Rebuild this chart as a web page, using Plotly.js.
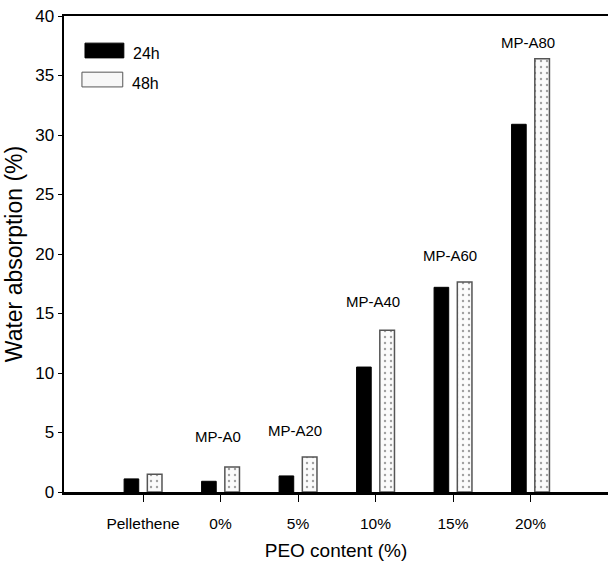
<!DOCTYPE html>
<html>
<head>
<meta charset="utf-8">
<script src="https://cdn.plot.ly/plotly-3.0.1.min.js"></script>
<style>html,body{margin:0;padding:0;background:#fff;}#chart{width:608px;height:569px;}</style>
</head>
<body>
<div id="chart"></div>
<script>
const categories = ["Pellethene", "0%", "5%", "10%", "15%", "20%"];
const series24h = [1.1, 0.9, 1.35, 10.5, 17.2, 30.9];
const series48h = [1.5, 2.1, 2.95, 13.6, 17.65, 36.4];
const sampleLabels = ["", "MP-A0", "MP-A20", "MP-A40", "MP-A60", "MP-A80"];
const labelY = [0, 4.7, 5.2, 16.0, 19.9, 37.8];
const legendNames = ["24h", "48h"];
const yTicks = [0, 5, 10, 15, 20, 25, 30, 35, 40];

const xIdx = categories.map((c, i) => i);
const font = "Liberation Sans, Arial, sans-serif";

const traces = [
  {
    type: "bar", x: xIdx, y: series24h, name: legendNames[0],
    marker: {color: "#000000", line: {color: "#000000", width: 1}},
    showlegend: false, hoverinfo: "skip"
  },
  {
    type: "bar", x: xIdx, y: series48h, name: legendNames[1],
    marker: {
      color: "#fbfbfb",
      line: {color: "#555555", width: 1.5},
      pattern: {shape: ".", fgcolor: "#a0a0a0", bgcolor: "#fbfbfb", size: 6, solidity: 0.12}
    },
    showlegend: false, hoverinfo: "skip"
  }
];

const annotations = [];
sampleLabels.forEach((t, i) => {
  if (t) annotations.push({
    x: i, y: labelY[i], xref: "x", yref: "y", text: t, showarrow: false,
    yanchor: "middle", xshift: -3,
    font: {family: font, size: 15, color: "#000"}
  });
});
// legend text
annotations.push({x: 0.123, y: 0.922, xref: "paper", yref: "paper", text: legendNames[0],
  showarrow: false, xanchor: "left", yanchor: "middle", font: {family: font, size: 16, color: "#000"}});
annotations.push({x: 0.121, y: 0.859, xref: "paper", yref: "paper", text: legendNames[1],
  showarrow: false, xanchor: "left", yanchor: "middle", font: {family: font, size: 16, color: "#000"}});

const shapes = [
  {type: "rect", xref: "paper", yref: "paper", x0: 0.0386, x1: 0.110, y0: 0.912, y1: 0.943,
   fillcolor: "#000", line: {color: "#000", width: 1}},
  {type: "rect", xref: "paper", yref: "paper", x0: 0.033, x1: 0.108, y0: 0.851, y1: 0.882,
   fillcolor: "#f7f7f7", line: {color: "#555", width: 1}}
];

const layout = {
  width: 608, height: 569,
  margin: {l: 64, r: 0, t: 16, b: 77},
  paper_bgcolor: "#fff", plot_bgcolor: "#fff",
  barmode: "group", bargap: 0.4, bargroupgap: 0.37,
  font: {family: font, color: "#000"},
  xaxis: {
    range: [-1.02, 6.0],
    tickvals: xIdx, ticktext: categories,
    ticks: "outside", ticklen: 7, tickwidth: 1, tickcolor: "#000",
    ticklabelstandoff: 9,
    showline: true, linecolor: "#000", linewidth: 2.5, mirror: true,
    showgrid: false, zeroline: false,
    tickfont: {family: font, size: 15.5, color: "#000"},
    title: {text: "PEO content (%)", font: {family: font, size: 19, color: "#000"}, standoff: 13}
  },
  yaxis: {
    range: [0, 40],
    tickvals: yTicks,
    ticks: "outside", ticklen: 4, tickwidth: 1, tickcolor: "#000",
    showline: true, linecolor: "#000", linewidth: 2.5, mirror: true,
    showgrid: false, zeroline: false,
    tickfont: {family: font, size: 17, color: "#000"},
    title: {text: "Water absorption (%)", font: {family: font, size: 23, color: "#000"}, standoff: 6}
  },
  annotations: annotations,
  shapes: shapes,
  showlegend: false
};

Plotly.newPlot("chart", traces, layout, {displayModeBar: false, staticPlot: true});
</script>
</body>
</html>
